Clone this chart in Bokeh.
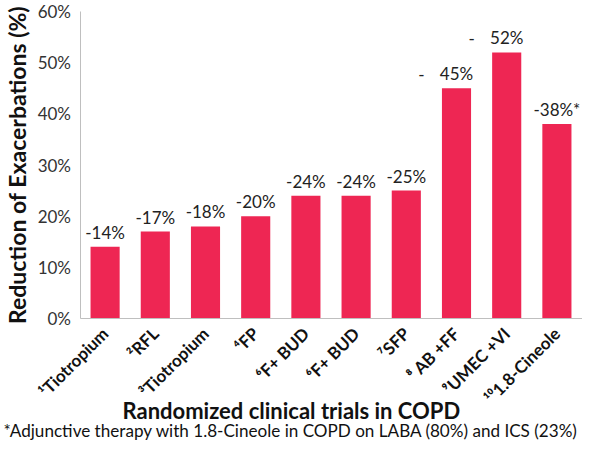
import math
from bokeh.plotting import figure
from bokeh.models import (ColumnDataSource, FixedTicker, Label, LinearAxis,
                          NumeralTickFormatter)
from bokeh.core.properties import value
from bokeh.embed import file_html
from bokeh.resources import INLINE

# ---- data ----
trials = ["¹Tiotropium", "²RFL", "³Tiotropium", "⁴FP", "⁶F+ BUD", "⁶F+ BUD",
          "⁷SFP", "⁸ AB +FF", "⁹UMEC +VI", "¹⁰1.8-Cineole"]
reduction = [14, 17, 18, 20, 24, 24, 25, 45, 52, 38]
value_labels = ["-14%", "-17%", "-18%", "-20%", "-24%", "-24%", "-25%", "45%", "52%", "-38%*"]
lead_dash = ["", "", "", "", "", "", "", "-", "-", ""]
y_ticks = [0, 10, 20, 30, 40, 50, 60]
x_title = "Randomized clinical trials in COPD"
footnote = "*Adjunctive therapy  with 1.8-Cineole in COPD on LABA (80%) and ICS (23%)"

FONT = "Lato"
BAR = "#EE2653"

# canvas size and pixel layout of the plotting area
W, H = 582, 443
Y0_PX, Y60_PX = 318, 11          # pixel rows of 0% and 60%
AX_PX = 79.5                      # pixel column of the y axis (x = -0.5)
STEP_PX = 50.2                    # pixels per category
PX_Y = (Y0_PX - Y60_PX) / 60.0
y_lo = -(H - Y0_PX) / PX_Y
y_hi = 60 + Y60_PX / PX_Y
x_lo = -0.5 - AX_PX / STEP_PX
x_hi = -0.5 + (W - AX_PX) / STEP_PX

idx = list(range(len(trials)))
src = ColumnDataSource(dict(x=idx, top=reduction, lab=value_labels, dash=lead_dash))

p = figure(width=W, height=H, output_backend="svg", toolbar_location=None,
           x_range=(x_lo, x_hi), y_range=(y_lo, y_hi),
           x_axis_location=None, y_axis_location=None)
p.min_border = 0
p.outline_line_color = None
p.grid.visible = False
p.background_fill_color = "white"
p.border_fill_color = "white"

p.vbar(x="x", top="top", width=0.58, bottom=0, source=src,
       fill_color=BAR, line_color=None)

p.text(x="x", y="top", text="lab", source=src, text_align="center",
       text_baseline="bottom", y_offset=-4, text_font=value(FONT),
       text_font_size="17px", text_color="#222222")
p.text(x="x", y="top", text="dash", source=src, text_align="center",
       text_baseline="bottom", x_offset=-35, y_offset=-7, text_font=value(FONT),
       text_font_size="17px", text_color="#222222")

# y axis
yax = LinearAxis(fixed_location=-0.5, bounds=(0, 60))
yax.ticker = FixedTicker(ticks=y_ticks)
yax.formatter = NumeralTickFormatter(format="0")
yax.major_label_overrides = {t: f"{t}%" for t in y_ticks}
yax.major_tick_line_color = None
yax.minor_tick_line_color = None
yax.axis_line_color = "#BFBFBF"
yax.major_label_text_font = FONT
yax.major_label_text_font_size = "17px"
yax.major_label_text_color = "#333333"
yax.major_label_standoff = 3
yax.axis_label = "Reduction of Exacerbations (%)"
yax.axis_label_text_font = FONT
yax.axis_label_text_font_style = "bold"
yax.axis_label_text_font_size = "23px"
yax.axis_label_text_color = "#111111"
yax.axis_label_standoff = 4
p.add_layout(yax, "left")

# x axis
xax = LinearAxis(fixed_location=0, bounds=(-0.5, x_hi))
xax.ticker = FixedTicker(ticks=idx)
xax.major_label_overrides = {i: t for i, t in enumerate(trials)}
xax.major_label_orientation = math.pi / 4
xax.major_tick_line_color = None
xax.minor_tick_line_color = None
xax.axis_line_color = "#BFBFBF"
xax.major_label_text_font = FONT
xax.major_label_text_font_style = "bold"
xax.major_label_text_font_size = "17px"
xax.major_label_text_color = "#111111"
xax.major_label_standoff = 6
p.add_layout(xax, "below")

p.add_layout(Label(x=122, y=H - 410, x_units="screen", y_units="screen", text=x_title,
                   text_font=FONT, text_font_style="bold", text_font_size="22px",
                   text_color="#111111", text_baseline="alphabetic", text_align="left"))
p.add_layout(Label(x=3, y=H - 430, x_units="screen", y_units="screen", text=footnote,
                   text_font=FONT, text_font_size="17.1px",
                   text_color="#111111", text_baseline="alphabetic", text_align="left"))

open("out.html", "w").write(file_html(p, INLINE))
